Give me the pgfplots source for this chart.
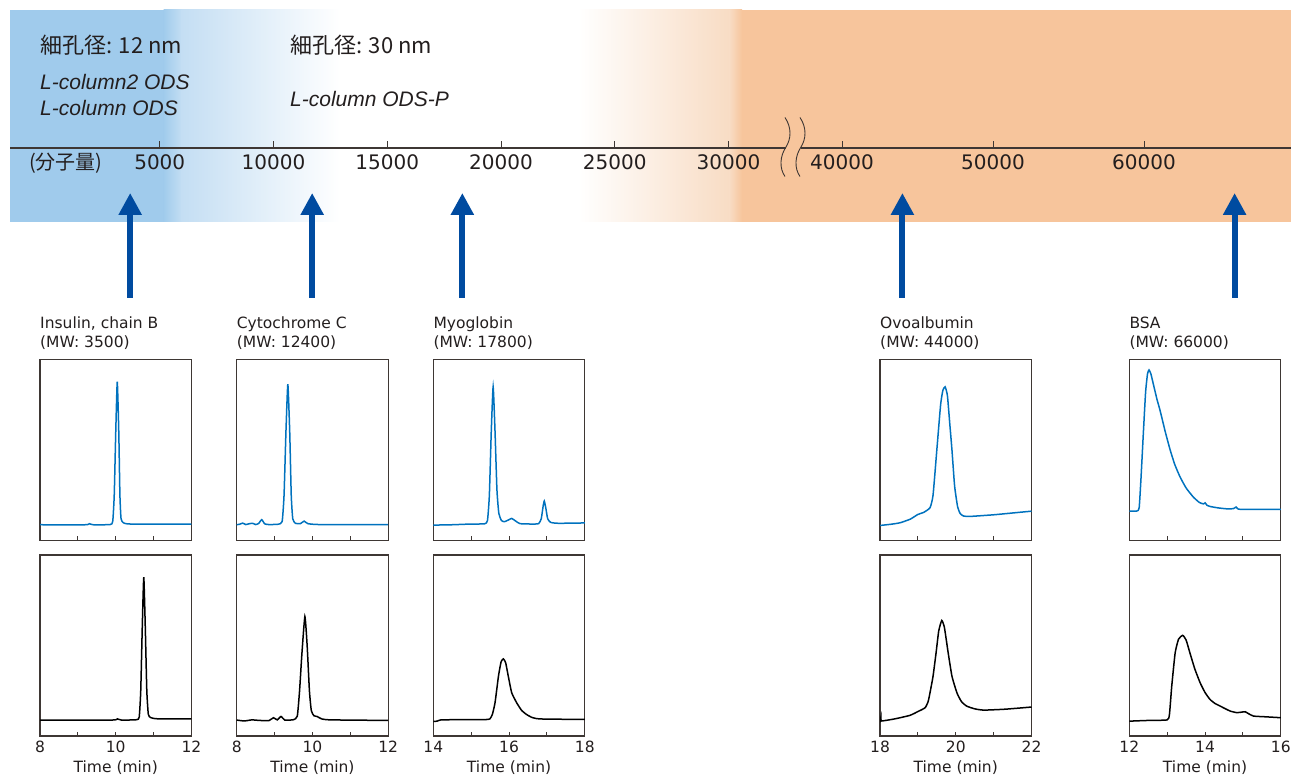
\documentclass[border=0pt]{standalone}
\usepackage{pgfplots}
\pgfplotsset{compat=1.18}
\usepackage{fontspec}
\setmainfont{DejaVu Sans}
\newfontfamily\cjk{Noto Sans CJK JP}
\newfontfamily\lib{Liberation Sans}
\usetikzlibrary{arrows.meta}
\definecolor{cb}{RGB}{160,203,236}
\definecolor{cbtwo}{RGB}{196,222,243}
\definecolor{co}{RGB}{247,197,156}
\definecolor{cotwo}{RGB}{248,220,196}
\definecolor{axisc}{RGB}{62,55,52}
\definecolor{txt}{RGB}{35,30,30}
\definecolor{arrowc}{RGB}{0,75,160}
\definecolor{blu}{RGB}{0,114,190}
\pgfplotsset{
 panel/.style={scale only axis, width=151.5bp, height=181bp, ymin=0, ymax=100,
   ytick=\empty, tick align=inside, xtick pos=left, major tick length=4bp,
   axis line style={draw=axisc, line width=1.1bp},
   major tick style={draw=axisc, line width=1bp},
   tick label style={font=\fontsize{15.5bp}{18bp}\selectfont, text=txt},
   xticklabel style={anchor=base, yshift=-17bp}, scaled x ticks=false,
   anchor=north west},
 toprow/.style={panel, xticklabels={}},
 botrow/.style={panel, xlabel={Time (min)},
   xlabel style={at={(axis description cs:0.5,0)}, anchor=base, yshift=-37bp,
   font=\fontsize{15.5bp}{18bp}\selectfont, text=txt}},
 bl/.style={blu, line width=1.5bp, smooth, tension=0.3},
 bk/.style={black, line width=1.5bp, smooth, tension=0.3},
 mw/.style={scale only axis, height=138bp, ymin=0, ymax=138, anchor=south west,
   axis x line*=bottom, axis y line=none, scaled x ticks=false, tick align=inside,
   major tick length=7bp, axis line style={draw=axisc, line width=1.2bp},
   major tick style={draw=axisc, line width=1bp}, clip=false,
   xticklabel style={font=\fontsize{20bp}{24bp}\selectfont, text=txt, anchor=base, yshift=-22bp}},
 arr/.style={arrowc, line width=6bp, -{Triangle[width=22bp,length=22bp]}},
}
\newcommand\ttl[3]{%
 \node[anchor=base west, inner sep=0, font=\fontsize{15.5bp}{18bp}\selectfont, text=txt] at ([yshift=31bp]#1.north west) {#2};
 \node[anchor=base west, inner sep=0, font=\fontsize{15.5bp}{18bp}\selectfont, text=txt] at ([yshift=12bp]#1.north west) {#3};}
\begin{document}
\begin{tikzpicture}[x=1bp,y=1bp]
\path[use as bounding box] (0,0) rectangle (1291,776);
% background band
\fill[cb] (10,554) rectangle (164,766);
\shade[left color=cb, right color=cbtwo] (163.5,554) rectangle (182,766);
\shade[left color=cbtwo, right color=white] (181.5,554) rectangle (340,766);
\shade[left color=white, right color=cotwo] (578,554) rectangle (730,766);
\shade[left color=cotwo, right color=co] (729.5,554) rectangle (742,766);
\fill[co] (741.5,554) rectangle (1291,766);
% texts
\node[anchor=west, inner sep=0, font=\cjk\fontsize{22bp}{26bp}\selectfont, text=txt] at (40,731) {細孔径: 12 nm};
\node[anchor=west, inner sep=0, font=\cjk\fontsize{22bp}{26bp}\selectfont, text=txt] at (290,731) {細孔径: 30 nm};
\node[anchor=west, inner sep=0, font=\lib\itshape\fontsize{21bp}{25bp}\selectfont, text=txt] at (40,693.5) {L-column2 ODS};
\node[anchor=west, inner sep=0, font=\lib\itshape\fontsize{21bp}{25bp}\selectfont, text=txt] at (40,667.5) {L-column ODS};
\node[anchor=west, inner sep=0, font=\lib\itshape\fontsize{21bp}{25bp}\selectfont, text=txt] at (290,677) {L-column ODS-P};
\node[anchor=west, inner sep=0, font=\cjk\fontsize{20bp}{24bp}\selectfont, text=txt] at (29,613) {(分子量)};
% MW axes
\begin{axis}[mw, width=776bp, at={(10bp,628bp)}, xmin=-1582, xmax=32527,
  xtick={5000,10000,15000,20000,25000,30000},
  xticklabels={5000,10000,15000,20000,25000,30000}]
\addplot[arr] coordinates {(3700,-150) (3700,-45)};
\addplot[arr] coordinates {(11700,-150) (11700,-45)};
\addplot[arr] coordinates {(18300,-150) (18300,-45)};
\end{axis}
\begin{axis}[mw, width=490bp, at={(801bp,628bp)}, xmin=37285, xmax=69735,
  xtick={40000,50000,60000}, xticklabels={40000,50000,60000}]
\addplot[arr] coordinates {(44000,-150) (44000,-45)};
\addplot[arr] coordinates {(66000,-150) (66000,-45)};
\end{axis}
\draw[axisc, line width=0.9bp] (785,658.5) .. controls (792,648) and (791,637) .. (786,629) .. controls (780,620) and (779,608) .. (785,599.5);
\draw[axisc, line width=0.9bp] (800,658.5) .. controls (807,648) and (806,637) .. (801,629) .. controls (795,620) and (794,608) .. (800,599.5);
% ---------- panel 1 Insulin
\begin{axis}[toprow, name=p1, at={(40bp,416.5bp)}, xmin=8, xmax=12, xtick={8,...,12}]
\addplot[bl] coordinates {(8,8.7) (9.2,8.7) (9.3,9.3) (9.4,8.7) (9.85,8.8) (9.92,10.5) (9.96,25) (10.0,60) (10.04,87.7) (10.08,60) (10.11,25) (10.14,12) (10.2,9.8) (10.3,9.2) (10.6,9.0) (12,9.0)};
\end{axis}
\ttl{p1}{Insulin, chain B}{(MW: 3500)}
\begin{axis}[botrow, at={(40bp,221bp)}, xmin=8, xmax=12, xtick={8,...,12}, xticklabels={8,,10,,12}]
\addplot[bk] coordinates {(8,8.8) (9.9,8.8) (10.04,9.5) (10.15,8.8) (10.55,9.0) (10.62,10.5) (10.66,25) (10.70,60) (10.74,87.7) (10.78,60) (10.82,25) (10.86,12) (10.92,10.2) (11.1,9.5) (12,9.4)};
\end{axis}
% ---------- panel 2 Cytochrome C
\begin{axis}[toprow, name=p2, at={(236.7bp,416.5bp)}, xmin=8, xmax=12, xtick={8,...,12}]
\addplot[bl] coordinates {(8,8.7) (8.08,9.0) (8.16,9.6) (8.24,8.8) (8.34,9.3) (8.42,9.5) (8.5,8.8) (8.58,9.4) (8.66,11.5) (8.74,9.2) (8.85,8.8) (9.1,9.0) (9.2,10.5) (9.25,25) (9.3,60) (9.35,86.3) (9.40,60) (9.44,25) (9.48,12) (9.55,9.5) (9.68,9.3) (9.78,10.7) (9.88,9.3) (10.2,8.8) (12,8.7)};
\end{axis}
\ttl{p2}{Cytochrome C}{(MW: 12400)}
\begin{axis}[botrow, at={(236.7bp,221bp)}, xmin=8, xmax=12, xtick={8,...,12}, xticklabels={8,,10,,12}]
\addplot[bk] coordinates {(8,8.8) (8.2,8.3) (8.4,8.9) (8.6,8.6) (8.85,8.5) (8.97,10.1) (9.07,8.9) (9.17,10.8) (9.27,8.8) (9.5,9.0) (9.6,11) (9.66,25) (9.72,45) (9.8,66) (9.86,50) (9.92,25) (9.97,14) (10.04,11.2) (10.12,10.8) (10.25,9.4) (10.5,8.9) (12,8.6)};
\end{axis}
% ---------- panel 3 Myoglobin
\begin{axis}[toprow, name=p3, at={(433.3bp,416.5bp)}, xmin=14, xmax=18, xtick={14,...,18}]
\addplot[bl] coordinates {(14,8.5) (14.5,8.7) (15.0,9.1) (15.35,9.2) (15.43,11) (15.48,25) (15.53,60) (15.58,84.9) (15.63,60) (15.68,28) (15.73,15) (15.8,11) (15.88,10.4) (15.98,11.3) (16.07,12.2) (16.17,10.8) (16.29,9.3) (16.6,9.1) (16.78,9.3) (16.85,12) (16.9,19) (16.93,21.8) (16.97,18) (17.02,12) (17.1,10) (17.3,9.5) (18,9.7)};
\end{axis}
\ttl{p3}{Myoglobin}{(MW: 17800)}
\begin{axis}[botrow, at={(433.3bp,221bp)}, xmin=14, xmax=18, xtick={14,...,18}, xticklabels={14,,16,,18}]
\addplot[bk] coordinates {(14,8.0) (14.1,8.2) (14.2,8.9) (14.6,9.0) (15.4,9.1) (15.5,9.6) (15.56,12) (15.63,18.4) (15.72,33) (15.79,41) (15.85,42.6) (15.91,40.5) (15.98,33) (16.07,23.9) (16.2,18.4) (16.33,14.2) (16.46,11.9) (16.6,10.3) (16.73,9.6) (17.0,9.3) (18,9.2)};
\end{axis}
% ---------- panel 4 Ovalbumin
\begin{axis}[toprow, name=p4, at={(880bp,416.5bp)}, xmin=18, xmax=22, xtick={18,...,22}]
\addplot[bl] coordinates {(18,8.3) (18.3,9.0) (18.53,9.8) (18.8,11.8) (19.0,14.4) (19.15,15.5) (19.32,18.1) (19.4,25) (19.5,50) (19.6,75) (19.66,83) (19.72,84.9) (19.78,80) (19.84,65) (19.9,49.9) (19.97,30) (20.05,18.5) (20.12,14.8) (20.21,13.5) (20.38,13.3) (21.0,14.2) (21.5,15.2) (22,16.2)};
\end{axis}
\ttl{p4}{Ovoalbumin}{(MW: 44000)}
\begin{axis}[botrow, at={(880bp,221bp)}, xmin=18, xmax=22, xtick={18,...,22}, xticklabels={18,,20,,22}]
\addplot[bk] coordinates {(18,7.6) (18.02,10.0) (18.04,8.3) (18.4,9.5) (18.79,11.4) (19.0,13.5) (19.19,15.6) (19.27,19) (19.32,23.9) (19.4,33) (19.48,45.9) (19.55,58) (19.63,63.8) (19.7,60) (19.8,45.9) (19.9,33) (20.03,23.9) (20.15,19) (20.29,16.5) (20.5,15.0) (20.74,14.3) (21.3,14.8) (22,16.0)};
\end{axis}
% ---------- panel 5 BSA
\begin{axis}[toprow, name=p5, at={(1129.3bp,416.5bp)}, xmin=12, xmax=16, xtick={12,...,16}]
\addplot[bl] coordinates {(12,16.2) (12.2,16.3) (12.26,18) (12.31,35) (12.37,59.1) (12.43,82) (12.48,92) (12.52,94.2) (12.57,92) (12.65,85) (12.73,78) (12.81,72) (12.95,60) (13.08,49.9) (13.2,42) (13.34,35.1) (13.5,29) (13.69,24.0) (13.85,21) (13.96,20.2) (14.0,20.8) (14.05,19.5) (14.13,18.8) (14.35,18.0) (14.57,17.5) (14.75,17.6) (14.82,18.5) (14.88,17.3) (15.2,17.2) (16,17.2)};
\end{axis}
\ttl{p5}{BSA}{(MW: 66000)}
\begin{axis}[botrow, at={(1129.3bp,221bp)}, xmin=12, xmax=16, xtick={12,...,16}, xticklabels={12,,14,,16}]
\addplot[bk] coordinates {(12,8.2) (12.5,8.6) (13.0,8.9) (13.06,12) (13.12,27.5) (13.21,45.9) (13.3,53.5) (13.41,55.6) (13.5,53) (13.6,45.9) (13.73,37) (13.87,29.4) (14.0,24) (14.13,20.2) (14.26,18.0) (14.40,16.5) (14.66,13.8) (14.84,12.9) (14.97,13.2) (15.06,13.4) (15.15,12.3) (15.28,11.0) (15.6,10.6) (16,10.1)};
\end{axis}
\end{tikzpicture}
\end{document}
